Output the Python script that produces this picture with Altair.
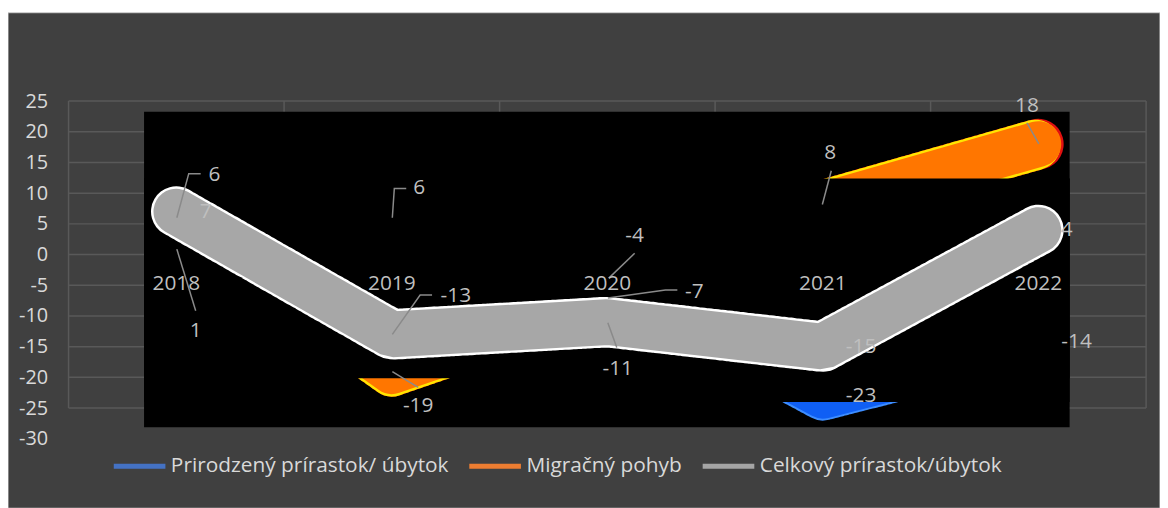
import altair as alt
import pandas as pd

# ---------------- data ----------------
years = [2018, 2019, 2020, 2021, 2022]
prirodzeny = [1, 6, -4, -23, -14]
migracny = [6, -19, -7, 8, 18]
celkovy = [7, -13, -11, -15, 4]
series_names = ["Prirodzený prírastok/ úbytok", "Migračný pohyb", "Celkový prírastok/úbytok"]
legend_colors = ["#4472C4", "#ED7D31", "#A5A5A5"]
y_ticks = [-30, -25, -20, -15, -10, -5, 0, 5, 10, 15, 20, 25]
grid_ticks = [-25, -20, -15, -10, -5, 0, 5, 10, 15, 20, 25]

# ---------------- layout ----------------
W, H = 1085, 340
X_DOMAIN = [years[0] - 0.5, years[-1] + 0.5]
Y_DOMAIN = [-30, 25]
PXX = W / (X_DOMAIN[1] - X_DOMAIN[0])
PXY = H / (Y_DOMAIN[1] - Y_DOMAIN[0])
FONT = "Open Sans"
LABEL_COLOR = "#BFBFBF"

# label offsets (px) and leader paths (px) relative to the data point: (series idx, year idx)
LAYOUT = {
    (0, 0): ((19.5, 82.7), [(0.5, 0.7), (19.5, 62.7)]),
    (1, 0): ((38.5, -43.4), [(0.5, 0), (12.5, -44.4), (24.5, -44.4)]),
    (2, 0): ((29.5, 0.7), []),
    (0, 1): ((27.5, -29.4), [(0.5, 0), (2.5, -29.4), (14.5, -29.4)]),
    (1, 1): ((26.5, 35.3), [(0.5, 0.3), (26.5, 16.3)]),
    (2, 1): ((64.5, -38.6), [(0.5, 0), (28.5, -39.6), (40.5, -39.6)]),
    (0, 2): ((27.5, -43), [(1.5, -1), (27.5, -26)]),
    (1, 2): ((87.5, -5.6), [(0.5, 0.4), (58.5, -7.6), (70.5, -7.6)]),
    (2, 2): ((10.5, 47.6), [(0.5, 0.6), (9.5, 25.6)]),
    (0, 3): ((38.5, 0.4), []),
    (1, 3): ((7.5, -53), [(-0.5, -1), (8.5, -35)]),
    (2, 3): ((38.5, 0.3), []),
    (0, 4): ((38.5, 1.5), []),
    (1, 4): ((-11.5, -38.3), [(0.5, -0.3), (-11.5, -21.3)]),
    (2, 4): ((28.5, 0.2), []),
}

values = [prirodzeny, migracny, celkovy]

long_rows = []
label_rows = []
leader_rows = []
for si, name in enumerate(series_names):
    for yi, yr in enumerate(years):
        v = values[si][yi]
        long_rows.append({"series": name, "year": yr, "value": v})
        (ldx, ldy), path = LAYOUT[(si, yi)]
        label_rows.append({"x": yr + ldx / PXX, "y": v - ldy / PXY, "text": str(v)})
        for k, (pdx, pdy) in enumerate(path):
            leader_rows.append({"id": f"{si}-{yi}", "seq": k,
                                "x": yr + pdx / PXX, "y": v - pdy / PXY})

long_df = pd.DataFrame(long_rows)
label_df = pd.DataFrame(label_rows)
leader_df = pd.DataFrame(leader_rows)
nat_df = pd.DataFrame({"year": years, "value": prirodzeny})
mig_df = pd.DataFrame({"year": years, "value": migracny})
tot_df = pd.DataFrame({"year": years, "value": celkovy})
cat_df = pd.DataFrame({"year": years, "lab": [str(y) for y in years]})
grid_df = pd.DataFrame({"v": grid_ticks})
vb = [y - 0.5 for y in years] + [years[-1] + 0.5]
vgrid_df = pd.DataFrame({"b": vb, "hi": [grid_ticks[-1]] * len(vb), "lo": [grid_ticks[0]] * len(vb)})
one = pd.DataFrame({"a": [0]})

xs = alt.Scale(domain=X_DOMAIN, nice=False, zero=False)
ys = alt.Scale(domain=Y_DOMAIN, nice=False, zero=False)
yaxis = alt.Axis(values=y_ticks, grid=False, ticks=False, domain=False,
                 labelPadding=21, labelFont=FONT, labelFontSize=20,
                 labelExpr="'' + datum.value",
                 labelColor="#D9D9D9", title=None, zindex=2)


def X(f):
    return alt.X(f, scale=xs, axis=None, title=None)


def Y(f):
    return alt.Y(f, scale=ys, axis=yaxis, title=None)


bg = alt.Chart(one).mark_rect(fill="#404040", stroke="#CFCFCF", strokeWidth=1).encode(
    x=alt.value(-61), x2=alt.value(1099), y=alt.value(-89), y2=alt.value(410))

hgrid = alt.Chart(grid_df).mark_rule(color="#595959", strokeWidth=1.5).encode(
    y=Y("v:Q"), x=alt.value(0), x2=alt.value(W))

vgrid = alt.Chart(vgrid_df).mark_rule(color="#595959", strokeWidth=1.5).encode(
    x=X("b:Q"), y=Y("hi:Q"), y2="lo:Q")

legend_layer = alt.Chart(long_df).mark_line(strokeWidth=1).encode(
    x=X("year:Q"), y=Y("value:Q"),
    color=alt.Color("series:N", sort=series_names,
                    scale=alt.Scale(domain=series_names, range=legend_colors),
                    legend=alt.Legend(title=None, orient="none", legendX=43, legendY=339,
                                      direction="horizontal", symbolType="stroke",
                                      symbolSize=2704, symbolStrokeWidth=5,
                                      labelFont=FONT, labelFontSize=21, labelLimit=0,
                                      labelColor="#D9D9D9", labelOffset=3,
                                      columnPadding=10, padding=0, zindex=2)))

panel = alt.Chart(one).mark_rect(fill="#000000").encode(
    x=alt.value(76), x2=alt.value(1008), y=alt.value(10.7), y2=alt.value(328.3))

blue_edge = alt.Chart(nat_df).mark_line(color="#3D8DFF", strokeWidth=50, strokeCap="round",
                                        strokeJoin="round", strokeDash=[2, 3]).encode(
    x=X("year:Q"), y=Y("value:Q"))
blue = alt.Chart(nat_df).mark_line(color="#0F5FF5", strokeWidth=46, strokeCap="round",
                                   strokeJoin="round").encode(x=X("year:Q"), y=Y("value:Q"))

cover_a = alt.Chart(one).mark_rect(fill="#000000").encode(
    x=alt.value(76), x2=alt.value(1008), y=alt.value(78), y2=alt.value(303))

orange_red = alt.Chart(mig_df).mark_line(color="#E01010", strokeWidth=51, strokeCap="round",
                                         strokeJoin="round").encode(x=X("year:Q"), y=Y("value:Q"))
orange_yel = alt.Chart(mig_df).mark_line(color="#FFE600", strokeWidth=51, strokeCap="round",
                                         strokeJoin="round", strokeDash=[2, 5]).encode(
    x=X("year:Q"), y=Y("value:Q"))
orange = alt.Chart(mig_df).mark_line(color="#FF7600", strokeWidth=46, strokeCap="round",
                                     strokeJoin="round").encode(x=X("year:Q"), y=Y("value:Q"))

cover_b = alt.Chart(one).mark_rect(fill="#000000").encode(
    x=alt.value(76), x2=alt.value(1008), y=alt.value(78), y2=alt.value(279))

grey_edge = alt.Chart(tot_df).mark_line(color="#FFFFFF", strokeWidth=51, strokeCap="round",
                                        strokeJoin="bevel", strokeDash=[3, 4]).encode(
    x=X("year:Q"), y=Y("value:Q"))
grey = alt.Chart(tot_df).mark_line(color="#A7A7A7", strokeWidth=46, strokeCap="round",
                                   strokeJoin="bevel").encode(x=X("year:Q"), y=Y("value:Q"))

leaders = alt.Chart(leader_df).mark_line(color="#8A8A8A", strokeWidth=1.5).encode(
    x=X("x:Q"), y=Y("y:Q"), detail="id:N", order="seq:O")

labels = alt.Chart(label_df).mark_text(font=FONT, fontSize=21, color=LABEL_COLOR,
                                       align="center", baseline="middle").encode(
    x=X("x:Q"), y=Y("y:Q"), text="text:N")

cats = alt.Chart(cat_df).mark_text(font=FONT, fontSize=21, color=LABEL_COLOR,
                                   align="center", baseline="middle").encode(
    x=X("year:Q"), y=alt.value(184.5), text="lab:N")

chart = alt.layer(
    bg, hgrid, vgrid, legend_layer, panel, blue_edge, blue, cover_a,
    orange_red, orange_yel, orange, cover_b, grey_edge, grey, leaders, labels, cats
).properties(
    width=W, height=H,
    autosize=alt.AutoSizeParams(type="none"),
    padding={"left": 61, "top": 92, "right": 14, "bottom": 68},
    background="#FFFFFF",
).configure_view(stroke=None)

chart.save("out.html", embed_options={"renderer": "svg", "actions": False})
